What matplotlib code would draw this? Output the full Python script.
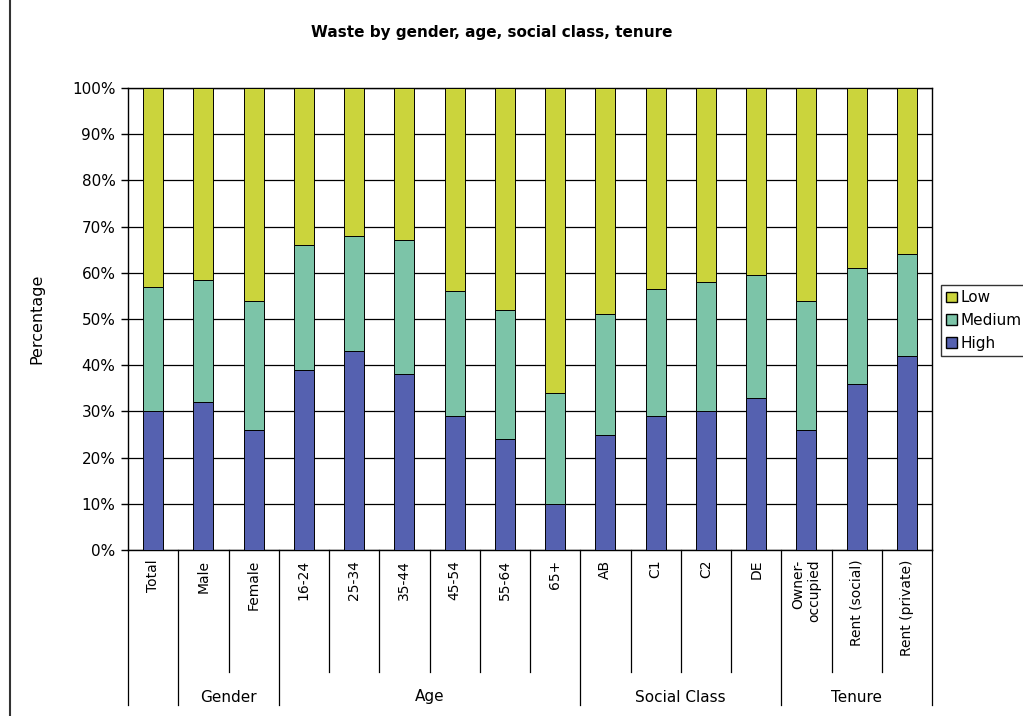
import numpy as np
import matplotlib
matplotlib.use("Agg")
import matplotlib.pyplot as plt
from matplotlib.lines import Line2D
from matplotlib.patches import Patch
import matplotlib.transforms as mtransforms

# Survey breakdown: share of respondents by waste level (%)
categories = ["Total", "Male", "Female", "16-24", "25-34", "35-44", "45-54",
              "55-64", "65+", "AB", "C1", "C2", "DE", "Owner-\noccupied",
              "Rent (social)", "Rent (private)"]
high = [30, 32, 26, 39, 43, 38, 29, 24, 10, 25, 29, 30, 33, 26, 36, 42]
medium = [27, 26.5, 28, 27, 25, 29, 27, 28, 24, 26, 27.5, 28, 26.5, 28, 25, 22]
low = [100 - h - m for h, m in zip(high, medium)]

# Grouping of categories along the axis: (label, first index, last index)
groups = [("", 0, 0), ("Gender", 1, 2), ("Age", 3, 8),
          ("Social Class", 9, 12), ("Tenure", 13, 15)]

yticks = [0, 10, 20, 30, 40, 50, 60, 70, 80, 90, 100]
ytick_labels = [f"{v}%" for v in yticks]

c_low = "#cbd43c"
c_med = "#7cc4a8"
c_high = "#5561b0"

fig = plt.figure(figsize=(10.23, 7.16), dpi=100)
ax = fig.add_axes([128 / 1023, 1 - 550 / 716, (932 - 128) / 1023, (550 - 88) / 716])

x = np.arange(len(categories))
w = 0.4
ax.bar(x, high, width=w, color=c_high, edgecolor="black", linewidth=0.7, zorder=3)
ax.bar(x, medium, width=w, bottom=high, color=c_med, edgecolor="black",
       linewidth=0.7, zorder=3)
bottom2 = [h + m for h, m in zip(high, medium)]
ax.bar(x, low, width=w, bottom=bottom2, color=c_low, edgecolor="black",
       linewidth=0.7, zorder=3)

ax.set_xlim(-0.5, len(categories) - 0.5)
ax.set_ylim(0, 100)
ax.set_yticks(yticks)
ax.set_yticklabels(ytick_labels, fontsize=11)
ax.tick_params(axis="y", direction="out", length=5, width=1, pad=4)
ax.yaxis.grid(True, color="black", linewidth=0.9, zorder=0)
ax.set_axisbelow(True)
for s in ax.spines.values():
    s.set_color("black")
    s.set_linewidth(1.0)

ax.set_xticks(x)
ax.set_xticklabels(categories, rotation=90, fontsize=10, va="top", ha="center")
ax.tick_params(axis="x", length=0, pad=7)
for lbl in ax.get_xticklabels():
    lbl.set_multialignment("right")

ax.set_ylabel("Percentage", fontsize=11.5, labelpad=20)

# Hierarchical separators below the category axis
trans = mtransforms.blended_transform_factory(ax.transData, ax.transAxes)
group_edges = set()
for _, a, b in groups:
    group_edges.add(a - 0.5)
    group_edges.add(b + 0.5)
inner_len = -(672 - 550) / 462
outer_len = -(705 - 550) / 462
for i in range(len(categories) + 1):
    xe = i - 0.5
    y_end = outer_len if xe in group_edges else inner_len
    ax.add_line(Line2D([xe, xe], [0, y_end], transform=trans, color="black",
                       linewidth=0.9, clip_on=False))
for name, a, b in groups:
    if name:
        ax.text((a + b) / 2, -(697 - 550) / 462, name, transform=trans,
                ha="center", va="center", fontsize=11)

fig.text(492 / 1023, 1 - 32 / 716, "Waste by gender, age, social class, tenure",
         ha="center", va="center", fontsize=11, fontweight="bold")

handles = [Patch(facecolor=c_low, edgecolor="black", label="Low"),
           Patch(facecolor=c_med, edgecolor="black", label="Medium"),
           Patch(facecolor=c_high, edgecolor="black", label="High")]
leg = fig.legend(handles=handles, loc="upper left",
                 bbox_to_anchor=(941 / 1023, 1 - 285 / 716), fontsize=11,
                 frameon=True, fancybox=False, edgecolor="black",
                 handlelength=0.7, handleheight=0.7, handletextpad=0.25,
                 borderpad=0.35, labelspacing=0.5, borderaxespad=0)
leg.get_frame().set_linewidth(1.0)

# Page margin rule at the left
fig.add_artist(Line2D([10 / 1023, 10 / 1023], [0, 1], transform=fig.transFigure,
                      color="#333333", linewidth=1.5))

fig.savefig("out.png", dpi=100)
